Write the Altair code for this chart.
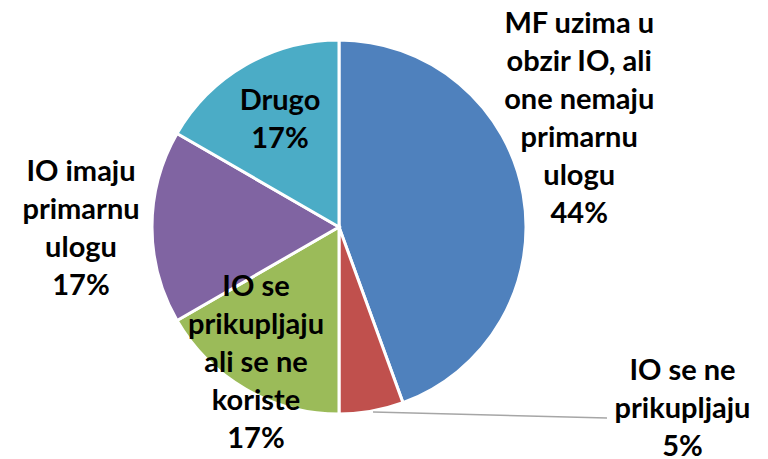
import altair as alt
import pandas as pd

categories = [
    "MF uzima u obzir IO, ali one nemaju primarnu ulogu",
    "IO se ne prikupljaju",
    "IO se prikupljaju ali se ne koriste",
    "IO imaju primarnu ulogu",
    "Drugo",
]
wrapped = [
    "MF uzima u\nobzir IO, ali\none nemaju\nprimarnu\nulogu",
    "IO se ne\nprikupljaju",
    "IO se\nprikupljaju\nali se ne\nkoriste",
    "IO imaju\nprimarnu\nulogu",
    "Drugo",
]
values = [8, 1, 3, 3, 3]
pct_labels = ["44%", "5%", "17%", "17%", "17%"]
colors = ["#4F81BD", "#C0504D", "#9BBB59", "#8064A2", "#4BACC6"]

df = pd.DataFrame({
    "category": categories,
    "value": values,
    "order": list(range(len(categories))),
    "label": [w + "\n" + p for w, p in zip(wrapped, pct_labels)],
})
total = sum(values)

base = alt.Chart(df).transform_stack(
    stack="value", as_=["v0", "v1"], groupby=[], sort=[alt.SortField("order")]
).transform_calculate(mid="(datum.v0 + datum.v1) / 2")

theta_scale = alt.Scale(domain=[0, total], range=[0, 6.283185307179586])

pie = base.mark_arc(outerRadius=187, stroke="white", strokeWidth=3).encode(
    theta=alt.Theta("v0:Q", scale=theta_scale),
    theta2="v1:Q",
    color=alt.Color("category:N", scale=alt.Scale(domain=categories, range=colors), legend=None),
)

FONT = "Lato"
FS = 29
LH = 38

# per-label placement (radius, dx, dy), like manually dragged Excel labels
placements = {
    categories[0]: (250, -6, -151),
    categories[1]: (187, 311, -31),
    categories[2]: (120, -23, -35),
    categories[3]: (250, -8, -46),
    categories[4]: (120, 1, -13),
}

layers = [pie]
for cat, (r, dx, dy) in placements.items():
    layers.append(
        base.transform_filter(alt.datum.category == cat)
        .mark_text(
            radius=r, dx=dx, dy=dy, font=FONT, fontSize=FS, fontWeight="bold",
            color="black", align="center", baseline="alphabetic",
            lineBreak="\n", lineHeight=LH,
        )
        .encode(theta=alt.Theta("mid:Q", scale=theta_scale), text="label:N")
    )

leader = alt.Chart(pd.DataFrame({"k": [0]})).mark_rule(color="#A6A6A6", strokeWidth=1.5).encode(
    x=alt.value(365), y=alt.value(404), x2=alt.value(599), y2=alt.value(410)
)
layers.append(leader)

chart = alt.layer(*layers).properties(
    width=662, height=438,
    autosize=alt.AutoSizeParams(type="none"),
    padding={"left": 0, "top": 0, "right": 90, "bottom": 13},
).configure_view(stroke=None)

chart.save("out.html", embed_options={"renderer": "svg", "actions": False})
